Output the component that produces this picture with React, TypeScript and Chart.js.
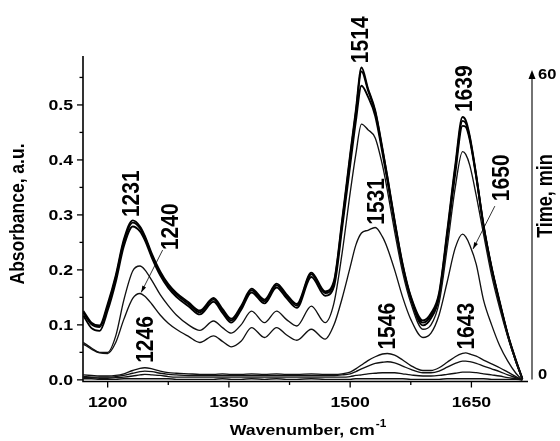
import React, { useEffect, useRef } from 'react';
import { Chart, registerables } from 'chart.js';

Chart.register(...registerables);

const WAVENUMBERS = [
  1170, 1180, 1190, 1200, 1210, 1220, 1231, 1240, 1246, 1255, 1265, 1275, 1285, 1300, 1314, 1331, 1342, 1353,
  1365, 1378, 1394, 1409, 1421, 1434, 1452, 1469, 1480, 1490, 1500, 1507, 1514, 1522, 1531, 1540, 1546, 1555,
  1565, 1575, 1590, 1600, 1610, 1620, 1630, 1639, 1643, 1648, 1656, 1665, 1675, 1685, 1695, 1705, 1713,
];

// Absorbance spectra (a.u.)
const SPEC_60 = [
  0.125, 0.104, 0.099, 0.138, 0.19, 0.255, 0.29, 0.279, 0.262, 0.228, 0.197, 0.174, 0.158, 0.141, 0.126, 0.149, 0.129, 0.111,
  0.134, 0.166, 0.146, 0.175, 0.156, 0.138, 0.195, 0.161, 0.18, 0.29, 0.41, 0.49, 0.568, 0.53, 0.49, 0.42, 0.37, 0.29,
  0.21, 0.152, 0.108, 0.121, 0.158, 0.27, 0.39, 0.478, 0.472, 0.443, 0.372, 0.282, 0.205, 0.142, 0.083, 0.036, 0.002,
];
const SPEC_50 = [
  0.122, 0.101, 0.096, 0.134, 0.186, 0.251, 0.286, 0.276, 0.259, 0.225, 0.194, 0.171, 0.155, 0.138, 0.123, 0.146, 0.126, 0.108,
  0.131, 0.163, 0.143, 0.172, 0.153, 0.135, 0.192, 0.158, 0.177, 0.285, 0.405, 0.485, 0.561, 0.527, 0.487, 0.418, 0.368, 0.288,
  0.208, 0.15, 0.104, 0.117, 0.154, 0.265, 0.384, 0.471, 0.467, 0.44, 0.37, 0.28, 0.203, 0.14, 0.082, 0.035, 0.002,
];
const SPEC_40 = [
  0.117, 0.094, 0.089, 0.126, 0.178, 0.243, 0.279, 0.27, 0.254, 0.221, 0.19, 0.167, 0.151, 0.134, 0.119, 0.142, 0.122, 0.104,
  0.127, 0.159, 0.139, 0.168, 0.149, 0.131, 0.187, 0.153, 0.17, 0.275, 0.39, 0.47, 0.535, 0.515, 0.48, 0.412, 0.363, 0.285,
  0.205, 0.147, 0.099, 0.112, 0.149, 0.258, 0.375, 0.462, 0.46, 0.436, 0.368, 0.279, 0.202, 0.139, 0.081, 0.034, 0.002,
];
const SPEC_30 = [
  0.068, 0.058, 0.05, 0.05, 0.08, 0.145, 0.198, 0.207, 0.2, 0.18, 0.155, 0.135, 0.118, 0.1, 0.09, 0.107, 0.095, 0.085,
  0.1, 0.125, 0.104, 0.125, 0.11, 0.098, 0.134, 0.104, 0.14, 0.23, 0.34, 0.41, 0.465, 0.455, 0.44, 0.39, 0.345, 0.27,
  0.195, 0.14, 0.092, 0.1, 0.14, 0.24, 0.35, 0.415, 0.41, 0.39, 0.335, 0.265, 0.19, 0.13, 0.078, 0.033, 0.002,
];
const SPEC_20 = [
  0.065, 0.056, 0.049, 0.048, 0.068, 0.11, 0.148, 0.157, 0.152, 0.137, 0.118, 0.103, 0.092, 0.079, 0.068, 0.08, 0.07, 0.06,
  0.07, 0.095, 0.077, 0.095, 0.082, 0.072, 0.092, 0.074, 0.1, 0.148, 0.205, 0.245, 0.267, 0.272, 0.277, 0.26, 0.24, 0.2,
  0.15, 0.11, 0.077, 0.085, 0.118, 0.178, 0.24, 0.265, 0.26, 0.245, 0.21, 0.145, 0.1, 0.062, 0.034, 0.012, 0,
];
const SPEC_10 = [
  0.009, 0.008, 0.007, 0.007, 0.008, 0.011, 0.017, 0.021, 0.022, 0.02, 0.016, 0.013, 0.012, 0.011, 0.01, 0.01, 0.011, 0.01,
  0.01, 0.011, 0.01, 0.011, 0.01, 0.01, 0.011, 0.01, 0.01, 0.011, 0.014, 0.02, 0.027, 0.035, 0.042, 0.047, 0.048, 0.045,
  0.036, 0.026, 0.017, 0.017, 0.022, 0.032, 0.042, 0.048, 0.049, 0.047, 0.043, 0.036, 0.029, 0.022, 0.014, 0.006, 0,
];
const SPEC_5 = [
  0.006, 0.005, 0.005, 0.005, 0.006, 0.008, 0.012, 0.015, 0.016, 0.015, 0.012, 0.01, 0.009, 0.008, 0.008, 0.008, 0.008, 0.008,
  0.008, 0.008, 0.008, 0.008, 0.008, 0.008, 0.008, 0.008, 0.008, 0.009, 0.011, 0.015, 0.02, 0.025, 0.03, 0.032, 0.033, 0.031,
  0.025, 0.019, 0.013, 0.013, 0.016, 0.023, 0.03, 0.034, 0.034, 0.033, 0.03, 0.025, 0.02, 0.015, 0.009, 0.004, 0,
];
const SPEC_2 = [
  0.004, 0.004, 0.003, 0.003, 0.004, 0.005, 0.007, 0.009, 0.01, 0.009, 0.008, 0.006, 0.005, 0.005, 0.005, 0.005, 0.005, 0.005,
  0.005, 0.005, 0.005, 0.005, 0.005, 0.005, 0.005, 0.005, 0.005, 0.005, 0.006, 0.008, 0.009, 0.011, 0.012, 0.013, 0.013, 0.013,
  0.011, 0.009, 0.007, 0.007, 0.008, 0.01, 0.012, 0.014, 0.014, 0.014, 0.013, 0.011, 0.009, 0.007, 0.004, 0.002, 0,
];
const SPEC_0 = [
  0.002, 0.002, 0.001, 0.001, 0.001, 0.002, 0.002, 0.002, 0.002, 0.002, 0.002, 0.002, 0.001, 0.001, 0.001, 0.001, 0.002, 0.001,
  0.001, 0.002, 0.001, 0.002, 0.001, 0.001, 0.002, 0.001, 0.001, 0.001, 0.001, 0.002, 0.002, 0.002, 0.002, 0.002, 0.002, 0.002,
  0.002, 0.001, 0.001, 0.001, 0.001, 0.002, 0.002, 0.002, 0.002, 0.002, 0.002, 0.002, 0.001, 0.001, 0.001, 0.001, 0,
];

const THICK_SERIES = [SPEC_60, SPEC_50, SPEC_40];
const THIN_SERIES = [SPEC_30, SPEC_20, SPEC_10, SPEC_5, SPEC_2, SPEC_0];

// Axis ticks
const X_TICKS = [1200, 1350, 1500, 1650];
const X_MINOR = [1275, 1425, 1575];
const Y_TICKS = [0, 0.1, 0.2, 0.3, 0.4, 0.5];
const Y_MINOR = [0.05, 0.15, 0.25, 0.35, 0.45, 0.55];
const Y_TICK_LABELS = ['0.0', '0.1', '0.2', '0.3', '0.4', '0.5'];
const TIME_LABELS = ['0', '60'];

// Peak annotations: text, wavenumber, absorbance at the text's bottom end
const PEAK_TEXT = ['1231', '1240', '1246', '1514', '1531', '1546', '1639', '1650', '1643'];
const PEAK_X = [1230, 1278, 1248, 1513, 1534, 1546.5, 1642, 1688, 1644.5];
const PEAK_Y = [0.296, 0.236, 0.031, 0.576, 0.282, 0.055, 0.487, 0.325, 0.055];

// Leader arrows: [fromX, fromY, toX, toY]
const ARROWS = [
  [1268, 0.236, 1241.5, 0.159],
  [1679, 0.316, 1652, 0.238],
];

const SX = 1.18; // horizontal stretch of the lettering
const FONT = '"Liberation Sans", Arial, sans-serif';

function drawText(ctx: CanvasRenderingContext2D, str: string, x: number, y: number, font: string,
  align: CanvasTextAlign, baseline: CanvasTextBaseline, rotate = false) {
  ctx.save();
  ctx.translate(x, y);
  ctx.scale(SX, 1);
  if (rotate) ctx.rotate(-Math.PI / 2);
  ctx.font = font;
  ctx.textAlign = align;
  ctx.textBaseline = baseline;
  ctx.fillText(str, 0, 0);
  ctx.restore();
}

function line(ctx: CanvasRenderingContext2D, x1: number, y1: number, x2: number, y2: number) {
  ctx.beginPath();
  ctx.moveTo(x1, y1);
  ctx.lineTo(x2, y2);
  ctx.stroke();
}

const overlay = {
  id: 'overlay',
  afterDraw(chart: any) {
    const { ctx, chartArea: ca, scales } = chart;
    const xs = scales.x;
    const ys = scales.y;
    ctx.save();
    ctx.strokeStyle = '#000';
    ctx.fillStyle = '#000';

    // axes
    ctx.lineWidth = 1.6;
    ctx.beginPath();
    ctx.moveTo(ca.left, ca.top);
    ctx.lineTo(ca.left, ca.bottom);
    ctx.lineTo(ca.right, ca.bottom);
    ctx.stroke();

    // ticks
    ctx.lineWidth = 1.3;
    const tickFont = `bold 15px ${FONT}`;
    Y_TICKS.forEach((v, i) => {
      const py = ys.getPixelForValue(v);
      line(ctx, ca.left - 6, py, ca.left, py);
      drawText(ctx, Y_TICK_LABELS[i], ca.left - 10, py + 1, tickFont, 'right', 'middle');
    });
    Y_MINOR.forEach((v) => {
      const py = ys.getPixelForValue(v);
      line(ctx, ca.left - 3.5, py, ca.left, py);
    });
    X_TICKS.forEach((v) => {
      const px = xs.getPixelForValue(v);
      line(ctx, px, ca.bottom, px, ca.bottom + 6);
      drawText(ctx, String(v), px, ca.bottom + 21, tickFont, 'center', 'middle');
    });
    X_MINOR.forEach((v) => {
      const px = xs.getPixelForValue(v);
      line(ctx, px, ca.bottom, px, ca.bottom + 3.5);
    });

    // axis titles
    const titleFont = `bold 15px ${FONT}`;
    drawText(ctx, 'Absorbance, a.u.', 18, 214, `bold 17.5px ${FONT}`, 'center', 'middle', true);
    ctx.font = titleFont;
    const mainW = ctx.measureText('Wavenumber, cm').width * SX;
    ctx.font = `bold 10px ${FONT}`;
    const supW = ctx.measureText('-1').width * SX;
    const startX = (ca.left + ca.right) / 2 + 2 - (mainW + supW) / 2;
    drawText(ctx, 'Wavenumber, cm', startX, 431, titleFont, 'left', 'middle');
    drawText(ctx, '-1', startX + mainW + 1, 424, `bold 10px ${FONT}`, 'left', 'middle');

    // time arrow axis
    const tx = ca.right + 4;
    ctx.lineWidth = 1.1;
    line(ctx, tx, ca.bottom - 2, tx, ca.top + 20);
    ctx.beginPath();
    ctx.moveTo(tx, ca.top + 14);
    ctx.lineTo(tx - 3.5, ca.top + 23);
    ctx.lineTo(tx + 3.5, ca.top + 23);
    ctx.closePath();
    ctx.fill();
    drawText(ctx, TIME_LABELS[1], tx + 6, ca.top + 19, `bold 14px ${FONT}`, 'left', 'middle');
    drawText(ctx, TIME_LABELS[0], tx + 6, ca.bottom - 6, `bold 14px ${FONT}`, 'left', 'middle');
    drawText(ctx, 'Time, min', tx + 14, 196, `bold 18px ${FONT}`, 'center', 'middle', true);

    // peak labels
    const peakFont = `bold 21px ${FONT}`;
    PEAK_TEXT.forEach((t, i) => {
      drawText(ctx, t, xs.getPixelForValue(PEAK_X[i]), ys.getPixelForValue(PEAK_Y[i]), peakFont, 'left', 'middle', true);
    });

    // leader arrows
    ctx.lineWidth = 0.8;
    ARROWS.forEach(([fx, fy, tx2, ty2]) => {
      const x1 = xs.getPixelForValue(fx);
      const y1 = ys.getPixelForValue(fy);
      const x2 = xs.getPixelForValue(tx2);
      const y2 = ys.getPixelForValue(ty2);
      line(ctx, x1, y1, x2, y2);
      const ang = Math.atan2(y2 - y1, x2 - x1);
      const hl = 7;
      ctx.beginPath();
      ctx.moveTo(x2, y2);
      ctx.lineTo(x2 - hl * Math.cos(ang - 0.3), y2 - hl * Math.sin(ang - 0.3));
      ctx.lineTo(x2 - hl * Math.cos(ang + 0.3), y2 - hl * Math.sin(ang + 0.3));
      ctx.closePath();
      ctx.fill();
    });

    ctx.restore();
  },
};

export default function App() {
  const canvasRef = useRef<HTMLCanvasElement | null>(null);

  useEffect(() => {
    document.body.style.margin = '0';
    const canvas = canvasRef.current;
    if (!canvas) return;
    const makeData = (s: number[]) => WAVENUMBERS.map((x, i) => ({ x, y: s[i] }));
    const datasets = [
      ...THIN_SERIES.map((s) => ({
        data: makeData(s),
        borderColor: '#111',
        borderWidth: 1.35,
        pointRadius: 0,
        fill: false,
        cubicInterpolationMode: 'monotone' as const,
      })),
      ...THICK_SERIES.map((s) => ({
        data: makeData(s),
        borderColor: '#000',
        borderWidth: 1.9,
        pointRadius: 0,
        fill: false,
        cubicInterpolationMode: 'monotone' as const,
      })),
    ];
    const chart = new Chart(canvas, {
      type: 'line',
      data: { datasets },
      options: {
        animation: false,
        responsive: false,
        events: [],
        layout: { padding: { top: 56, right: 32, left: 0, bottom: 0 } },
        plugins: { legend: { display: false }, tooltip: { enabled: false }, title: { display: false } },
        scales: {
          x: {
            type: 'linear',
            min: 1169.5,
            max: 1720,
            grid: { display: false },
            border: { display: false },
            ticks: { display: false },
            afterFit: (s: any) => { s.height = 59.5; },
          },
          y: {
            type: 'linear',
            min: -0.003,
            max: 0.589,
            grid: { display: false },
            border: { display: false },
            ticks: { display: false },
            afterFit: (s: any) => { s.width = 83; },
          },
        },
      },
      plugins: [overlay],
    });
    return () => chart.destroy();
  }, []);

  return (
    <div style={{ width: 560, height: 441, background: '#fff' }}>
      <canvas ref={canvasRef} width={560} height={441} style={{ display: 'block' }} />
    </div>
  );
}
